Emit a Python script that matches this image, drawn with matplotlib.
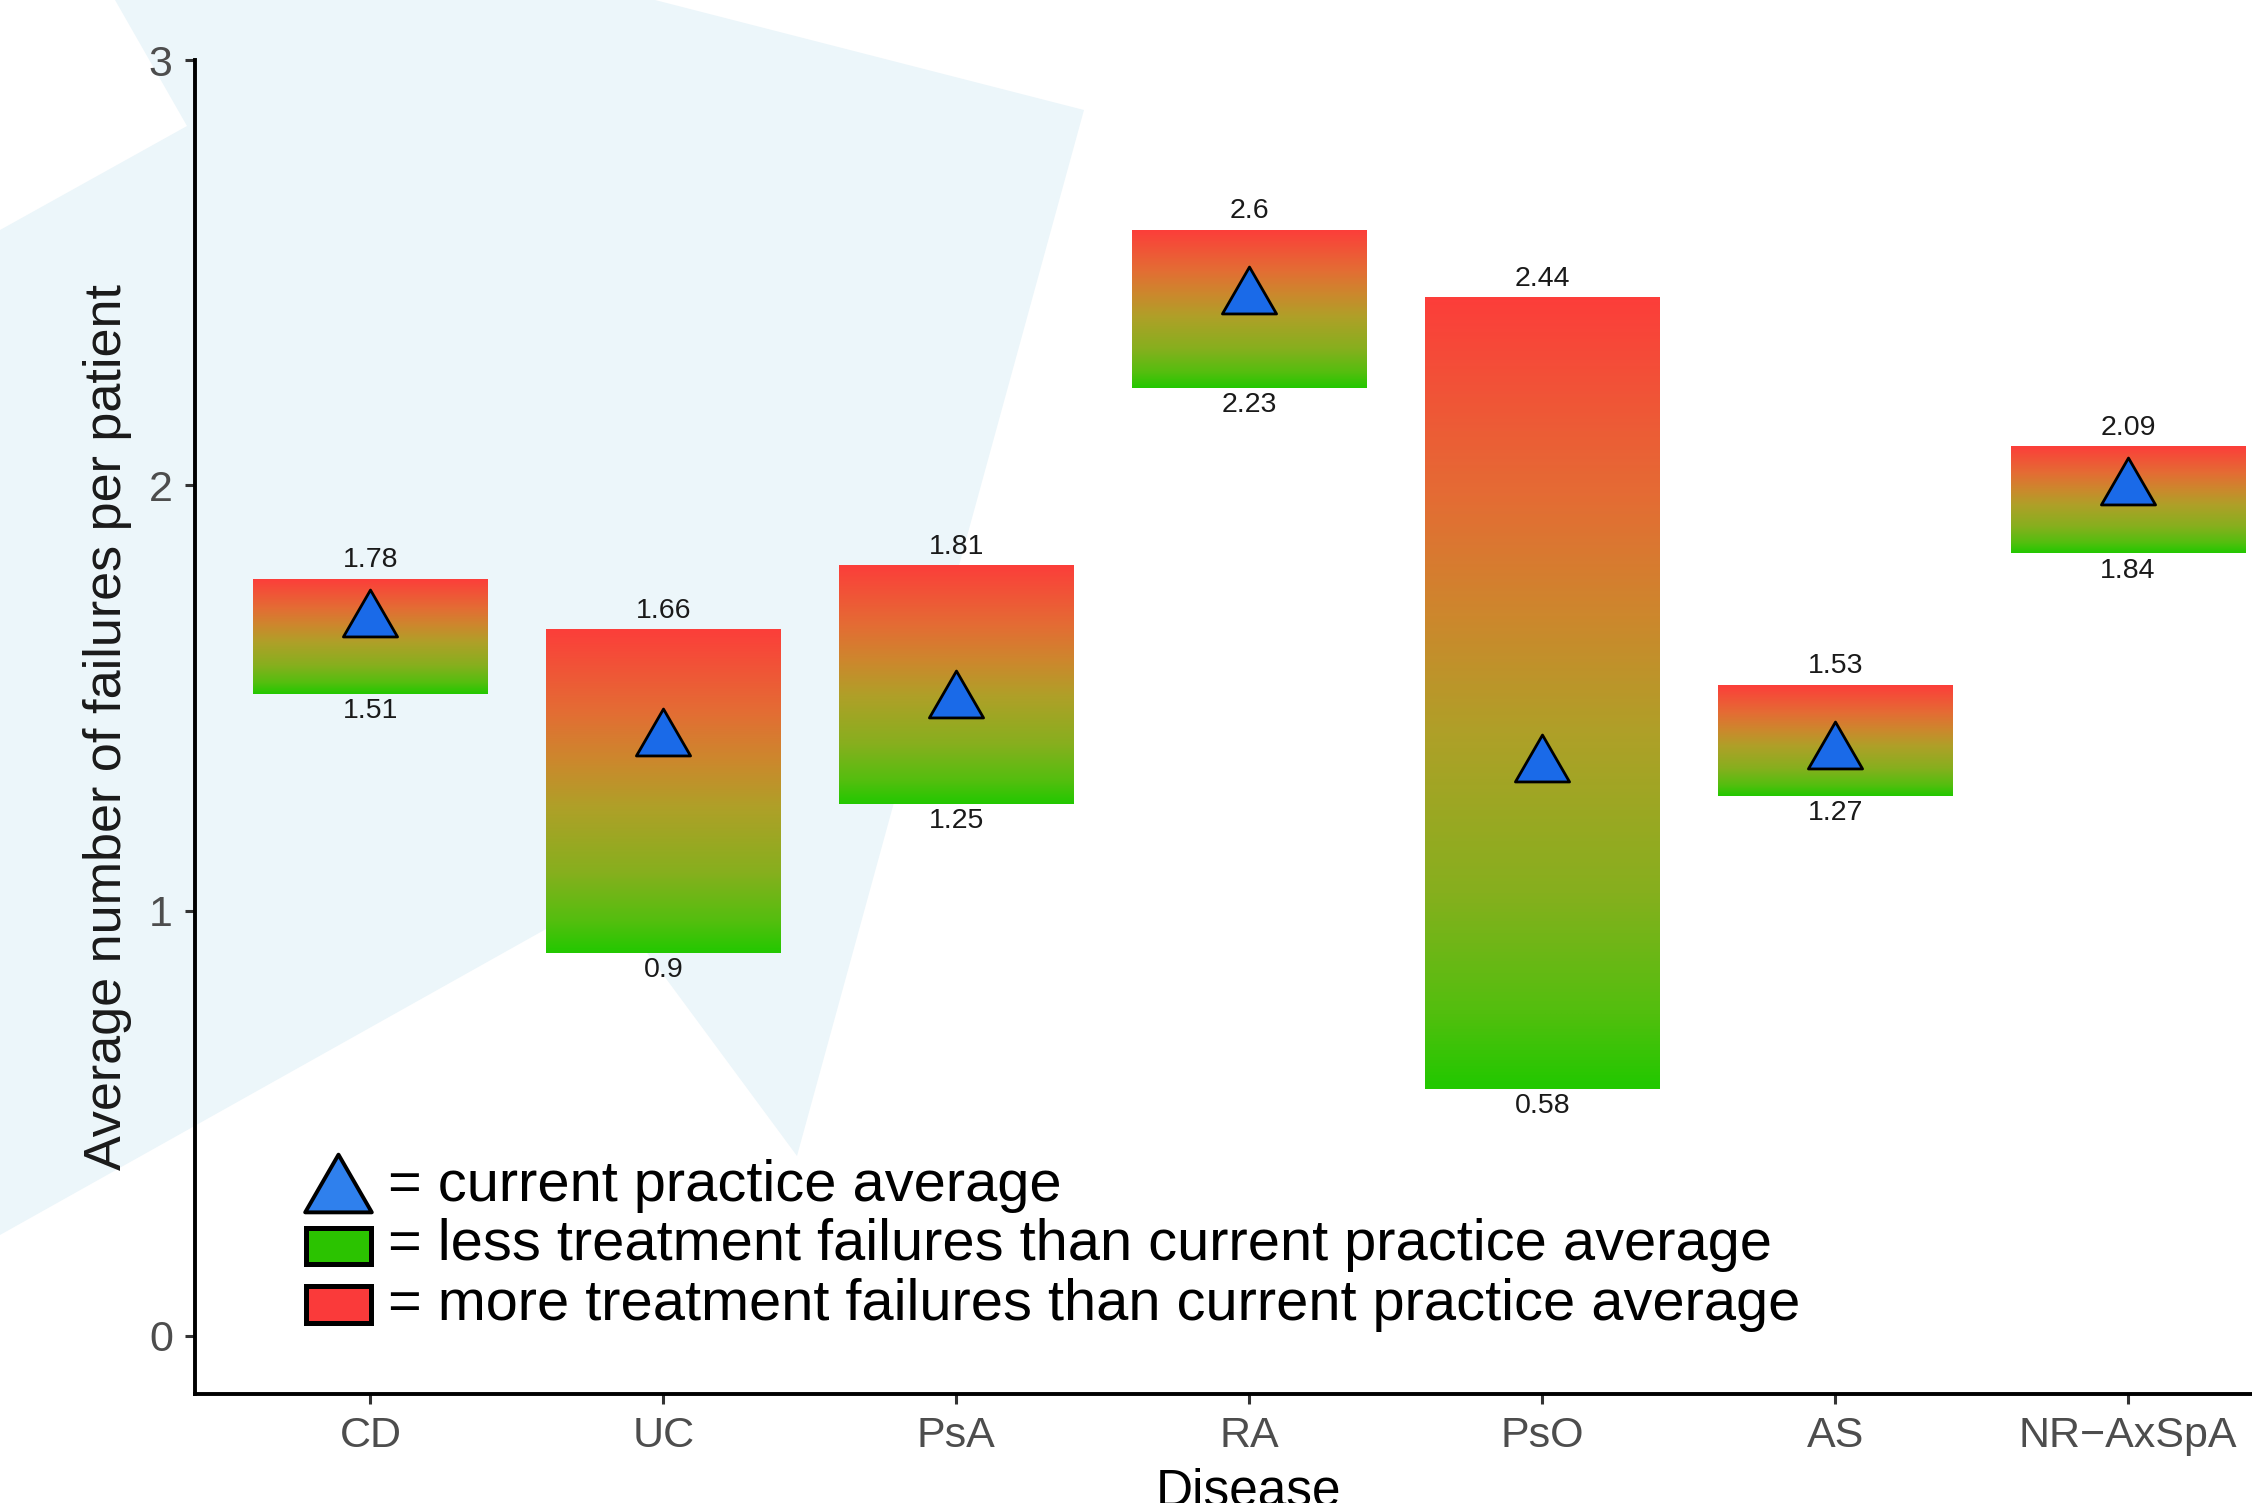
import numpy as np
import matplotlib
matplotlib.use("Agg")
import matplotlib.pyplot as plt
from matplotlib.path import Path
from matplotlib.patches import Polygon, Rectangle
from matplotlib.lines import Line2D
from matplotlib.colors import LinearSegmentedColormap

# ---------------- data ----------------
diseases = ["CD", "UC", "PsA", "RA", "PsO", "AS", "NR\u2212AxSpA"]
lower = [1.51, 0.90, 1.25, 2.23, 0.58, 1.27, 1.84]
upper = [1.78, 1.66, 1.81, 2.60, 2.44, 1.53, 2.09]
current = [1.70, 1.42, 1.51, 2.46, 1.36, 1.39, 2.01]
lower_labels = ["1.51", "0.9", "1.25", "2.23", "0.58", "1.27", "1.84"]
upper_labels = ["1.78", "1.66", "1.81", "2.6", "2.44", "1.53", "2.09"]
yticks = [0, 1, 2, 3]
legend_labels = ["= current practice average",
                 "= less treatment failures than current practice average",
                 "= more treatment failures than current practice average"]

plt.rcParams['font.family'] = ['Liberation Sans', 'DejaVu Sans']

W, H = 2252, 1503
fig = plt.figure(figsize=(W / 100, H / 100), dpi=100)
fig.patch.set_facecolor('white')


def fx(px):
    return px / W


def fy(py):
    return 1 - py / H


# ---------------- faint background watermark shape ----------------
bg_px = [(115, 0), (655, 0), (1084, 110), (797, 1156), (605, 896),
         (0, 1235), (0, 230), (187, 126)]
fig.add_artist(Polygon([(fx(x), fy(y)) for x, y in bg_px], closed=True,
                       transform=fig.transFigure, facecolor='#ecf6fa',
                       edgecolor='none', zorder=-1))

# ---------------- axes ----------------
ax = fig.add_axes([fx(195), fy(1394), 1 - fx(195), (1394 - 60) / H])
ax.set_facecolor('none')

stops = [(0.0, (35, 200, 0)), (0.1, (85, 190, 15)), (0.25, (135, 175, 30)),
         (0.45, (175, 160, 40)), (0.6, (205, 135, 45)), (0.75, (228, 108, 52)),
         (1.0, (252, 62, 58))]
cmap = LinearSegmentedColormap.from_list(
    'gr', [(p, tuple(c / 255 for c in rgb)) for p, rgb in stops])
grad = np.linspace(0, 1, 256).reshape(-1, 1)

xpos = np.arange(1, len(diseases) + 1)
bw = 0.8
for x, lo, hi in zip(xpos, lower, upper):
    ax.imshow(grad, extent=[x - bw / 2, x + bw / 2, lo, hi], origin='lower',
              aspect='auto', cmap=cmap, interpolation='bilinear', zorder=2)

tri = Path([(0, 0.866), (-1, -0.866), (1, -0.866), (0, 0.866)],
           [Path.MOVETO, Path.LINETO, Path.LINETO, Path.CLOSEPOLY])
ax.plot(xpos, current, ls='none', marker=tri, ms=39, mfc='#1a6ae8',
        mec='black', mew=2.0, zorder=4)

for x, hi, lab in zip(xpos, upper, upper_labels):
    ax.annotate(lab, (x, hi), xytext=(0, 4.5), textcoords='offset points',
                ha='center', va='bottom', fontsize=20.5, color='#1a1a1a')
for x, lo, lab in zip(xpos, lower, lower_labels):
    ax.annotate(lab, (x, lo), xytext=(0, -3), textcoords='offset points',
                ha='center', va='top', fontsize=20.5, color='#1a1a1a')

ax.set_xlim(0.401, 7.423)
ax.set_ylim(-0.1364, 3.0)
ax.set_xticks(xpos)
ax.set_xticklabels(diseases)
ax.set_yticks(yticks)
ax.set_yticklabels([str(t) for t in yticks])
for s in ['top', 'right']:
    ax.spines[s].set_visible(False)
for s in ['left', 'bottom']:
    ax.spines[s].set_linewidth(2.8)
    ax.spines[s].set_color('black')
ax.tick_params(axis='both', length=7, width=2.2, color='#333333',
               labelsize=31, labelcolor='#4d4d4d', pad=9)

# axis titles
fig.text(fx(108), fy(727), "Average number of failures per patient",
         rotation=90, ha='center', va='center', fontsize=37.5, color='#1a1a1a')
fig.text(fx(1249), fy(1468), "Disease", ha='center', va='top',
         fontsize=37, color='black')

# ---------------- custom legend ----------------
fig.add_artist(Line2D([fx(338)], [fy(1183)], ls='none', marker=tri, ms=48,
                      mfc='#2f80ed', mec='black', mew=2.8,
                      transform=fig.transFigure, zorder=5))
fig.add_artist(Rectangle((fx(305.5), fy(1263.5)), 65 / W, 36 / H,
                         transform=fig.transFigure, facecolor='#2bc300',
                         edgecolor='black', lw=3.6, zorder=5))
fig.add_artist(Rectangle((fx(305.5), fy(1322.5)), 65 / W, 37 / H,
                         transform=fig.transFigure, facecolor='#fa3a3a',
                         edgecolor='black', lw=3.6, zorder=5))
for lab, yb in zip(legend_labels, [1201, 1260, 1320]):
    fig.text(fx(388), fy(yb), lab, ha='left', va='baseline', fontsize=41.6,
             color='black', zorder=5)

fig.savefig('out.png', dpi=100)
